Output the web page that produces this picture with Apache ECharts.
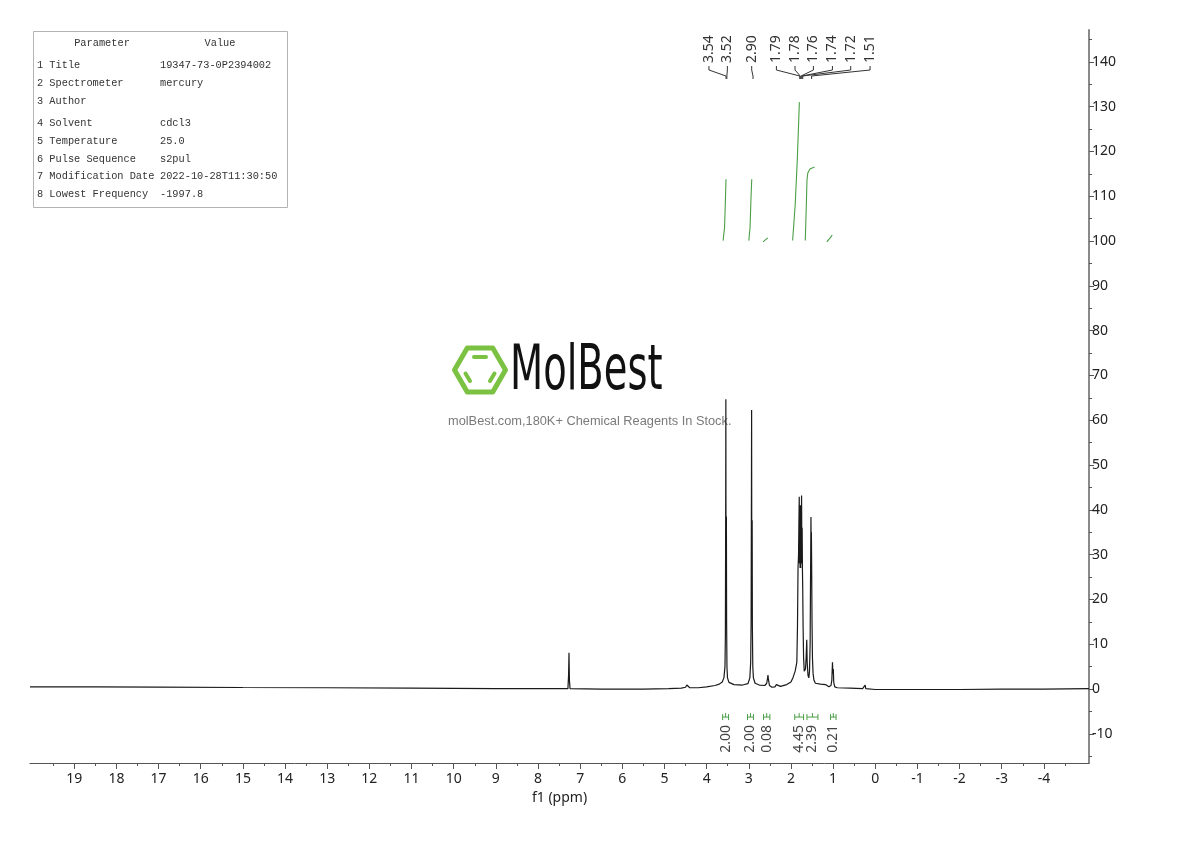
<!DOCTYPE html>
<html><head><meta charset="utf-8">
<script src="https://cdn.jsdelivr.net/npm/echarts@6/dist/echarts.min.js"></script>
<style>html,body{margin:0;padding:0;background:#fff}#c{width:1190px;height:841px}</style>
</head><body><div id="c"></div>
<script>
// ===================== DATA =====================
const xTickValues = [19,18,17,16,15,14,13,12,11,10,9,8,7,6,5,4,3,2,1,0,-1,-2,-3,-4];
const xMinorTickValues = [19.5,18.5,17.5,16.5,15.5,14.5,13.5,12.5,11.5,10.5,9.5,8.5,7.5,6.5,5.5,4.5,3.5,2.5,1.5,0.5,-0.5,-1.5,-2.5,-3.5,-4.5];
const yTickValues = [-10,0,10,20,30,40,50,60,70,80,90,100,110,120,130,140];
const yMinorTickValues = [-15,-5,5,15,25,35,45,55,65,75,85,95,105,115,125,135,145];

// spectrum: [ppm, intensity]
const spectrum = [
  [20.05,0.5],[18.5,0.5],[17,0.45],[15,0.35],[13,0.3],[11,0.2],[9,0.1],[7.6,0.1],
  [7.29,0.1],[7.275,3],[7.265,8.1],[7.255,2],[7.24,0.1],
  [6.5,0],[5.5,0],[4.9,0.1],[4.6,0.2],[4.5,0.4],[4.47,0.9],[4.455,1.3],[4.44,0.8],[4.4,0.3],
  [4.2,0.3],[4.0,0.5],[3.8,0.8],[3.7,1.1],[3.63,1.6],[3.59,2.5],
  [3.565,5],[3.555,12],[3.548,40],[3.544,64.7],[3.54,30],[3.536,20],[3.531,38.5],[3.526,15],
  [3.518,5],[3.505,2.5],[3.47,1.5],[3.35,1.0],[3.15,0.9],[3.02,1.2],[2.975,2.5],
  [2.955,6],[2.945,15],[2.937,45],[2.933,62.3],[2.929,30],[2.925,23.7],[2.92,37.7],[2.915,14],
  [2.905,5],[2.89,2.5],[2.85,1.3],[2.75,0.9],[2.62,0.8],[2.575,1.3],[2.555,2.4],[2.545,3.1],
  [2.535,2.2],[2.51,0.8],[2.45,0.4],[2.38,0.5],[2.345,1.0],[2.33,1.3],[2.31,0.8],[2.25,0.6],
  [2.1,1.0],[2.0,1.6],[1.95,2.6],[1.9,4],[1.86,6],[1.845,14],[1.832,27],[1.82,30],[1.81,38],
  [1.803,42.9],[1.797,28],[1.79,40],[1.783,27],[1.776,41],[1.769,27],[1.762,39],[1.755,28],
  [1.748,43.2],[1.741,30],[1.734,36],[1.727,26.6],[1.72,22],[1.712,14],[1.70,7],[1.685,4],
  [1.675,3.6],[1.655,4.5],[1.64,7],[1.625,11],[1.615,6],[1.595,3],[1.575,2.5],[1.56,4],
  [1.545,10],[1.535,25],[1.525,38.4],[1.52,28],[1.515,35],[1.508,26.5],[1.5,15],[1.49,7],
  [1.475,3.5],[1.455,2],[1.42,1.3],[1.3,1.1],[1.18,1.0],[1.10,0.5],[1.05,0.8],[1.03,2],
  [1.015,6],[1.005,3.5],[0.995,4.5],[0.985,1.5],[0.96,0.5],[0.9,0.3],[0.6,0.2],[0.3,0.1],
  [0.24,0.9],[0.225,0.1],[0,-0.1],[-1,-0.1],[-2,-0.1],[-3,0],[-4,0],[-5.07,0.1]
];

// peak picking
const peakPpm = [3.54,3.52,2.90,1.79,1.78,1.76,1.74,1.72,1.51];
const peakLabels = ['3.54','3.52','2.90','1.79','1.78','1.76','1.74','1.72','1.51'];

// integrals
const integralRanges = [[3.62,3.48],[3.03,2.89],[2.65,2.50],[1.91,1.70],[1.62,1.36],[1.06,0.93]];
const integralLabels = ['2.00','2.00','0.08','4.45','2.39','0.21'];
const integralCurves = [
  [[3.61,100.1],[3.575,103],[3.555,109],[3.54,113.8]],
  [[3.0,100.1],[2.97,103],[2.95,109],[2.93,113.8]],
  [[2.66,99.8],[2.6,100.3],[2.55,100.7]],
  [[1.96,100.1],[1.90,108],[1.85,118],[1.80,131.0]],
  [[1.66,100.1],[1.635,108],[1.62,113.5],[1.60,115.2],[1.55,116.1],[1.44,116.5]],
  [[1.15,99.8],[1.08,100.6],[1.02,101.3]]
];

// parameter table
const paramNames = ['1 Title','2 Spectrometer','3 Author','4 Solvent','5 Temperature','6 Pulse Sequence','7 Modification Date','8 Lowest Frequency'];
const paramValues = ['19347-73-0P2394002','mercury','','cdcl3','25.0','s2pul','2022-10-28T11:30:50','-1997.8'];

// ===================== LAYOUT =====================
const X_MIN = -5.07, X_MAX = 20.05, Y_MIN = -16.5, Y_MAX = 147.1;
// horizontal slots (ppm) where the MestReNova peak labels sit
const LABEL_SLOT_PPM = [3.945,3.508,2.931,2.345,1.904,1.467,1.016,0.582,0.123];
const AXIS_FONT = '"Noto Sans", "Open Sans", sans-serif';
const TABLE_FONT = '10.3px "Liberation Mono", monospace';
const GREEN = '#4a9f46';

const chart = echarts.init(document.getElementById('c'), null, {renderer:'canvas'});

const peakLabelSeries = {
  type:'custom', xAxisIndex:0, yAxisIndex:0, silent:true, clip:false,
  data: peakPpm.map((p,i)=>[p,i]),
  encode:{x:0,y:1},
  renderItem(params, api){
    const i = api.value(1);
    const top = api.coord([X_MAX, Y_MAX])[1];
    const lx = api.coord([LABEL_SLOT_PPM[i], 0])[0];
    const px = api.coord([peakPpm[i], 0])[0];
    const textBottom = top + 33;
    const pts = [[lx, top+36],[lx, top+40],[px, top+46],[px, top+49]];
    return {type:'group', children:[
      {type:'text', x:lx, y:textBottom, rotation:Math.PI/2,
        style:{text:peakLabels[i], align:'left', verticalAlign:'middle', fill:'#333',
          font:'14px ' + AXIS_FONT}},
      {type:'polyline', shape:{points:pts}, style:{stroke:'#333', lineWidth:1, fill:null}}
    ]};
  }
};

const integralLabelSeries = {
  type:'custom', xAxisIndex:0, yAxisIndex:0, silent:true, clip:false,
  data: integralRanges.map((r,i)=>[r[0],r[1],i]),
  encode:{x:[0,1]},
  renderItem(params, api){
    const i = api.value(2);
    const zeroY = api.coord([0,0])[1];
    const x1 = api.coord([api.value(0),0])[0];
    const x2 = api.coord([api.value(1),0])[0];
    const by = zeroY + 28;
    const cx = (x1+x2)/2;
    return {type:'group', children:[
      {type:'line', shape:{x1:x1,y1:by,x2:x2,y2:by}, style:{stroke:GREEN,lineWidth:1}},
      {type:'line', shape:{x1:x1,y1:by-3,x2:x1,y2:by+3}, style:{stroke:GREEN,lineWidth:1}},
      {type:'line', shape:{x1:x2,y1:by-3,x2:x2,y2:by+3}, style:{stroke:GREEN,lineWidth:1}},
      {type:'line', shape:{x1:cx,y1:by-4,x2:cx,y2:by}, style:{stroke:GREEN,lineWidth:1}},
      {type:'text', x:cx, y:by+8, rotation:Math.PI/2,
        style:{text:integralLabels[i], align:'right', verticalAlign:'middle', fill:'#444',
          font:'14px ' + AXIS_FONT}}
    ]};
  }
};

// table graphics
const TBL = {x:33, y:31, w:254, h:176};
const tableGraphics = [
  {type:'rect', shape:{x:TBL.x+0.5, y:TBL.y+0.5, width:TBL.w, height:TBL.h},
    style:{fill:'#fff', stroke:'#b4b4b4', lineWidth:1}, z:10},
  {type:'text', x:102, y:43, style:{text:'Parameter', align:'center', verticalAlign:'middle',
    font:TABLE_FONT, fill:'#333'}, z:11},
  {type:'text', x:220, y:43, style:{text:'Value', align:'center', verticalAlign:'middle',
    font:TABLE_FONT, fill:'#333'}, z:11}
];
const rowY = [65,83,101,123,141,159,176,194];
paramNames.forEach((n,i)=>{
  tableGraphics.push({type:'text', x:37, y:rowY[i], style:{text:n, align:'left', verticalAlign:'middle',
    font:TABLE_FONT, fill:'#333'}, z:11});
  tableGraphics.push({type:'text', x:160, y:rowY[i], style:{text:paramValues[i], align:'left', verticalAlign:'middle',
    font:TABLE_FONT, fill:'#333'}, z:11});
});

// watermark
const LOGO_GREEN = '#7cc242';
const hx = 480, hy = 370, hr = 25.5, hh = hr*Math.sqrt(3)/2;
const hexPts = [[hx+hr,hy],[hx+hr/2,hy+hh],[hx-hr/2,hy+hh],[hx-hr,hy],[hx-hr/2,hy-hh],[hx+hr/2,hy-hh]];
const watermark = [
  {type:'polygon', shape:{points:hexPts}, style:{fill:null, stroke:LOGO_GREEN, lineWidth:5, lineJoin:'round'}, z:1},
  {type:'line', shape:{x1:474,y1:357,x2:486,y2:357}, style:{stroke:LOGO_GREEN,lineWidth:4,lineCap:'round'}, z:1},
  {type:'line', shape:{x1:465.5,y1:373.5,x2:470,y2:381}, style:{stroke:LOGO_GREEN,lineWidth:4,lineCap:'round'}, z:1},
  {type:'line', shape:{x1:490,y1:381,x2:494.5,y2:373.5}, style:{stroke:LOGO_GREEN,lineWidth:4,lineCap:'round'}, z:1},
  {type:'text', x:510, y:373, scaleX:0.62, style:{text:'MolBest', align:'left', verticalAlign:'middle',
    font:'62px "DejaVu Sans", sans-serif', fill:'#111'}, z:1},
  {type:'text', x:448, y:421, style:{text:'molBest.com,180K+ Chemical Reagents In Stock.', align:'left', verticalAlign:'middle',
    font:'12.8px "Liberation Sans", Arial, sans-serif', fill:'#7a7a7a'}, z:1}
];

const option = {
  animation:false,
  backgroundColor:'#fff',
  grid:{left:30, right:101, top:30, bottom:78, containLabel:false},
  xAxis:[
    {type:'value', inverse:true, min:X_MIN, max:X_MAX, position:'bottom',
      axisLine:{show:true, onZero:false, lineStyle:{color:'#555', width:1}},
      axisTick:{show:true, customValues:xTickValues, length:6, lineStyle:{color:'#555'}},
      axisLabel:{show:true, customValues:xTickValues, fontSize:14, color:'#222', margin:9, fontFamily:AXIS_FONT},
      splitLine:{show:false},
      name:'f1 (ppm)', nameLocation:'middle', nameGap:28,
      nameTextStyle:{fontSize:14, color:'#222', fontFamily:AXIS_FONT}},
    {type:'value', inverse:true, min:X_MIN, max:X_MAX, position:'bottom',
      axisLine:{show:false, onZero:false},
      axisTick:{show:true, customValues:xMinorTickValues, length:3, lineStyle:{color:'#555'}},
      axisLabel:{show:false}, splitLine:{show:false}}
  ],
  yAxis:[
    {type:'value', min:Y_MIN, max:Y_MAX, position:'right',
      axisLine:{show:true, onZero:false, lineStyle:{color:'#8a8a8a', width:2}},
      axisTick:{show:true, customValues:yTickValues, length:5, lineStyle:{color:'#555'}},
      axisLabel:{show:true, customValues:yTickValues, fontSize:14, color:'#222', margin:3, fontFamily:AXIS_FONT},
      splitLine:{show:false}},
    {type:'value', min:Y_MIN, max:Y_MAX, position:'right',
      axisLine:{show:false, onZero:false},
      axisTick:{show:true, customValues:yMinorTickValues, length:3, lineStyle:{color:'#555'}},
      axisLabel:{show:false}, splitLine:{show:false}}
  ],
  graphic: watermark.concat(tableGraphics),
  series:[
    {type:'line', data:spectrum, showSymbol:false, symbol:'none', xAxisIndex:0, yAxisIndex:0,
      lineStyle:{color:'#1a1a1a', width:1.2}, z:5, clip:true},
    ...integralCurves.map(c=>({type:'line', data:c, showSymbol:false, symbol:'none', xAxisIndex:0, yAxisIndex:0,
      lineStyle:{color:GREEN, width:1.1}, z:4})),
    peakLabelSeries,
    integralLabelSeries
  ]
};
chart.setOption(option);
</script>
</body></html>
